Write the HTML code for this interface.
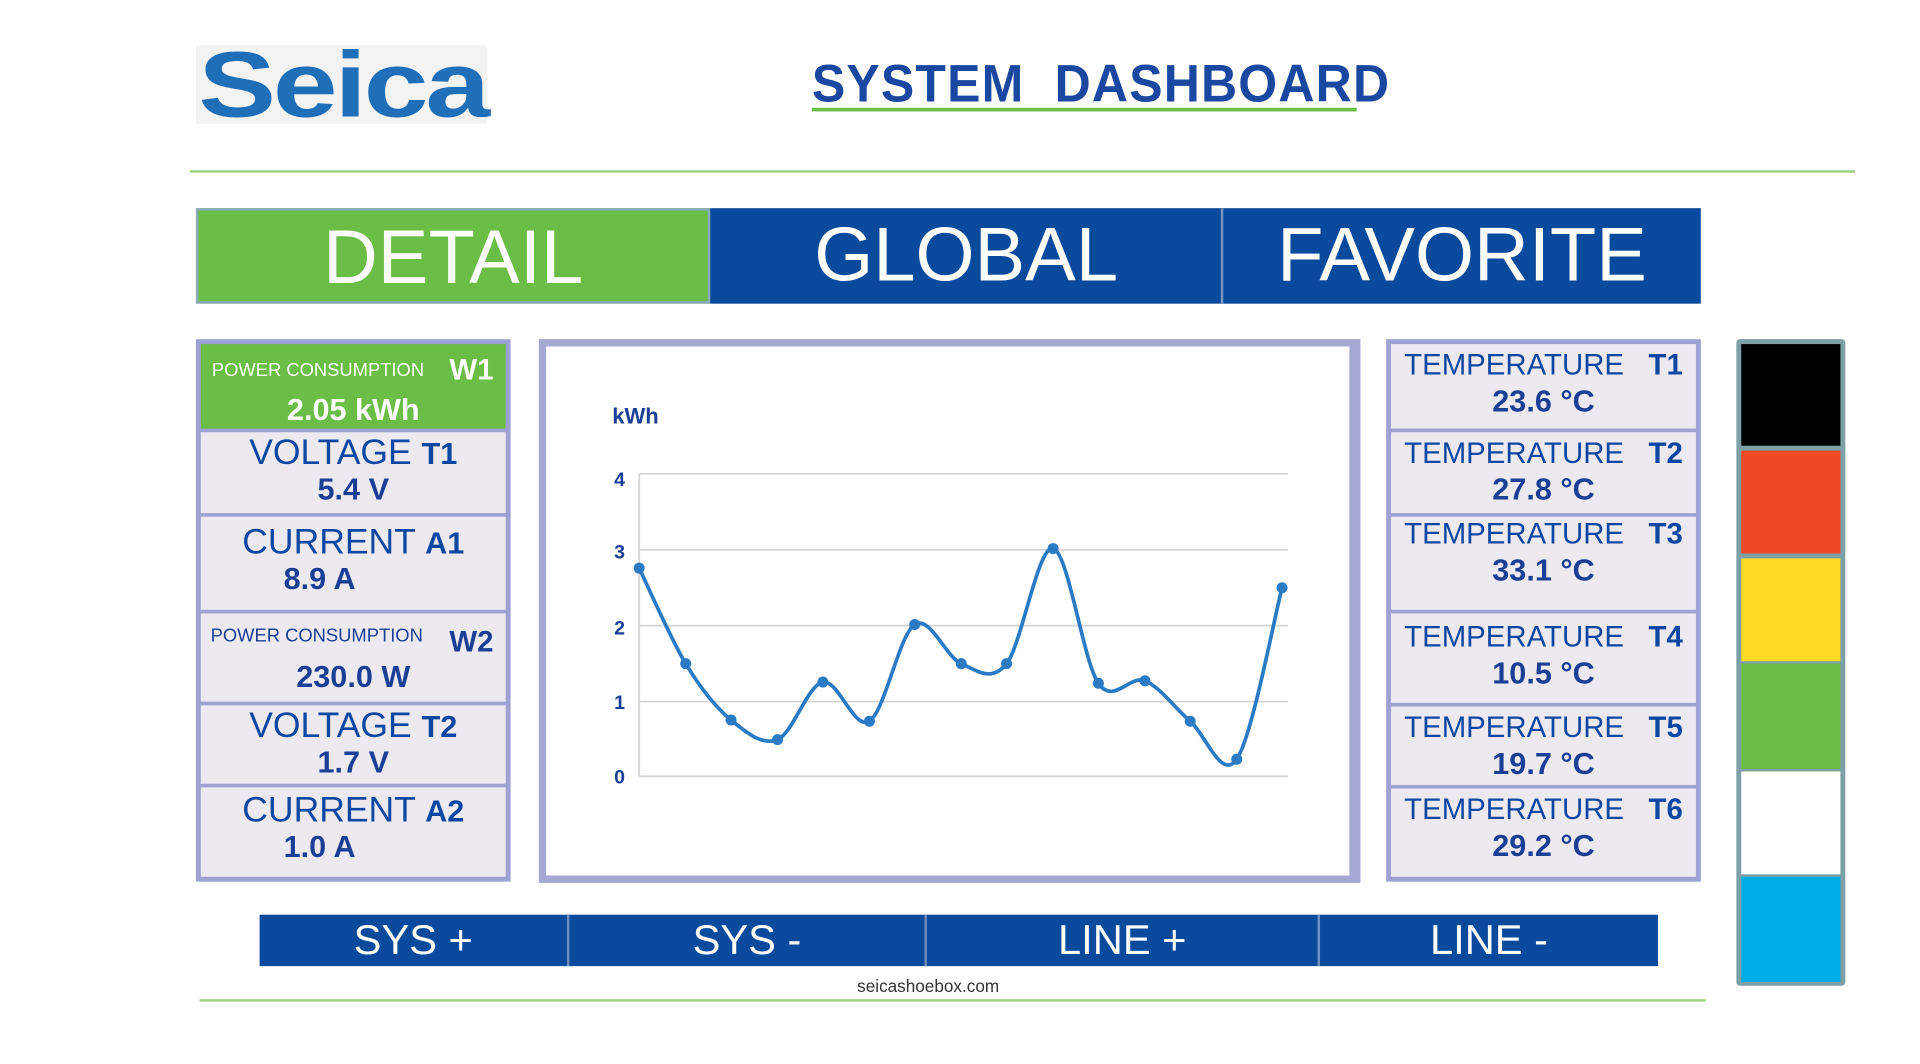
<!DOCTYPE html>
<html><head><meta charset="utf-8"><style>
html,body{margin:0;padding:0;background:#fff;width:1920px;height:1064px;overflow:hidden}
#w{position:absolute;left:0;top:0;width:1568px;height:869px;transform:scale(1.2245);transform-origin:0 0;font-family:"Liberation Sans",sans-serif}
.a{position:absolute;box-sizing:border-box}
.tab{color:#fff;font-size:62px;text-align:center;line-height:78px;top:170px;height:78px}
.panel{background:#9ea2d2}
.cell{position:absolute;left:4px;right:4px;background:#ece9f1;color:#0d47a1;text-align:center;box-sizing:border-box}
.big{font-size:29px;line-height:30px}
.val{font-size:25px;font-weight:bold;color:#1a3f94;line-height:28px}
.btn{color:#fff;font-size:34px;text-align:center;line-height:42px;top:747px;height:42px;font-family:"Liberation Sans Narrow","Liberation Sans",sans-serif;background:#0a4a9c;border-right:2px solid #6f8fc0}
</style></head><body><div id="w">
<div class="a" style="left:160px;top:37px;width:238px;height:64px;background:#f3f3f3"></div>
<div class="a" style="left:162px;top:26px;font-size:76px;font-weight:900;color:#1f6fb8;letter-spacing:-2px;transform:scaleX(1.25);transform-origin:0 0;font-family:'Liberation Sans',sans-serif">Seica</div>
<div class="a" style="left:663px;top:45px;font-size:43px;font-weight:900;color:#1a48a0;letter-spacing:1px;transform:scaleX(0.95);transform-origin:0 0;white-space:nowrap">SYSTEM&nbsp;&nbsp;DASHBOARD</div>
<div class="a" style="left:663px;top:88px;width:445px;height:3px;background:#6abd45"></div>
<div class="a" style="left:155px;top:139px;width:1360px;height:2px;background:#9fd27e"></div>

<div class="a tab" style="left:160px;width:420px;background:#6abd45;border:2px solid #8ab">DETAIL</div>
<div class="a tab" style="left:580px;width:418px;background:#0a4a9c">GLOBAL</div>
<div class="a tab" style="left:997px;width:392px;background:#0a4a9c;border-left:2px solid #7a95c4">FAVORITE</div>

<div class="a panel" style="left:160px;top:277px;width:257px;height:443px">
 <div class="cell" style="top:4px;height:69px;background:#6abd45;color:#fff"><div style="position:absolute;left:9px;top:13px;font-size:15px">POWER CONSUMPTION</div><div style="position:absolute;right:10px;top:8px;font-size:24px;font-weight:bold">W1</div><div style="position:absolute;left:0;right:0;top:40px;font-size:25px;font-weight:bold">2.05 kWh</div></div>
 <div class="cell" style="top:76px;height:66px"><div class="big" style="margin-top:2px">VOLTAGE <b style="font-size:25px">T1</b></div><div class="val">5.4 V</div></div>
 <div class="cell" style="top:145px;height:76px"><div class="big" style="margin-top:6px">CURRENT <b style="font-size:25px">A1</b></div><div class="val" style="margin-left:-55px">8.9 A</div></div>
 <div class="cell" style="top:224px;height:72px;color:#1a3f94"><div style="position:absolute;left:8px;top:10px;font-size:15px">POWER CONSUMPTION</div><div style="position:absolute;right:10px;top:10px;font-size:24px;font-weight:bold">W2</div><div class="val" style="position:absolute;left:0;right:0;top:38px">230.0 W</div></div>
 <div class="cell" style="top:299px;height:64px"><div class="big" style="margin-top:2px">VOLTAGE <b style="font-size:25px">T2</b></div><div class="val">1.7 V</div></div>
 <div class="cell" style="top:366px;height:73px"><div class="big" style="margin-top:4px">CURRENT <b style="font-size:25px">A2</b></div><div class="val" style="margin-left:-55px">1.0 A</div></div>
</div>

<div class="a" style="left:440px;top:277px;width:671px;height:444px;border:6px solid #a6a8d4;border-right-width:9px;background:#fff"></div>
<svg class="a" style="left:0;top:0" width="1568" height="869">
<g stroke="#d6d6d6" stroke-width="1.5"><line x1="522" x2="1052" y1="387" y2="387"/><line x1="522" x2="1052" y1="449" y2="449"/><line x1="522" x2="1052" y1="511" y2="511"/><line x1="522" x2="1052" y1="573" y2="573"/><line x1="522" x2="1052" y1="634" y2="634"/><line x1="522" x2="522" y1="387" y2="634"/></g>
<g font-family="Liberation Sans" font-weight="bold" font-size="16" fill="#1a3f94" text-anchor="middle"><text x="519" y="346" font-size="18">kWh</text><text x="506" y="397">4</text><text x="506" y="456">3</text><text x="506" y="518">2</text><text x="506" y="579">1</text><text x="506" y="640">0</text></g>
<path id="crv" fill="none" stroke="#2a7bc4" stroke-width="3"/>
<g id="dots" fill="#2a7bc4"></g>
</svg>

<div class="a panel" style="left:1132px;top:277px;width:257px;height:443px">
 <div class="cell" style="top:4px;height:69px"><div class="big" style="font-size:24px;margin-top:3px">TEMPERATURE&nbsp;&nbsp; <b>T1</b></div><div class="val">23.6 °C</div></div>
 <div class="cell" style="top:76px;height:66px"><div class="big" style="font-size:24px;margin-top:3px">TEMPERATURE&nbsp;&nbsp; <b>T2</b></div><div class="val">27.8 °C</div></div>
 <div class="cell" style="top:145px;height:76px"><div class="big" style="font-size:24px;margin-top:0">TEMPERATURE&nbsp;&nbsp; <b>T3</b></div><div class="val">33.1 °C</div></div>
 <div class="cell" style="top:224px;height:73px"><div class="big" style="font-size:24px;margin-top:5px">TEMPERATURE&nbsp;&nbsp; <b>T4</b></div><div class="val">10.5 °C</div></div>
 <div class="cell" style="top:300px;height:64px"><div class="big" style="font-size:24px;margin-top:3px">TEMPERATURE&nbsp;&nbsp; <b>T5</b></div><div class="val">19.7 °C</div></div>
 <div class="cell" style="top:367px;height:72px"><div class="big" style="font-size:24px;margin-top:3px">TEMPERATURE&nbsp;&nbsp; <b>T6</b></div><div class="val">29.2 °C</div></div>
</div>

<div class="a" style="left:1418px;top:277px;width:89px;height:528px;background:#7d9fa6;border-radius:3px"></div>
<div class="a" style="left:1422px;top:281px;width:81px;height:83px;background:#000"></div>
<div class="a" style="left:1422px;top:368px;width:81px;height:84px;background:#ef4a23"></div>
<div class="a" style="left:1422px;top:456px;width:81px;height:84px;background:#fedb22"></div>
<div class="a" style="left:1422px;top:542px;width:81px;height:86px;background:#6abd45"></div>
<div class="a" style="left:1422px;top:630px;width:81px;height:84px;background:#fff"></div>
<div class="a" style="left:1422px;top:716px;width:81px;height:86px;background:#00ade6"></div>

<div class="a btn" style="left:212px;width:253px">SYS +</div>
<div class="a btn" style="left:465px;width:292px">SYS -</div>
<div class="a btn" style="left:757px;width:321px">LINE +</div>
<div class="a btn" style="left:1078px;width:276px;border-right:none">LINE -</div>
<div class="a" style="left:700px;top:797px;font-size:14px;color:#333">seicashoebox.com</div>
<div class="a" style="left:163px;top:816px;width:1230px;height:2px;background:#9fd27e"></div>
</div>
<script>
var p=[[522,464],[560,542],[597,588],[635,604],[672,557],[710,589],[747,510],[785,542],[822,542],[860,448],[897,558],[935,556],[972,589],[1010,620],[1047,480]];
var d="M"+p[0].join(","),t=0.5,g="";
for(var i=0;i<p.length-1;i++){var a=p[i-1]||p[i],b=p[i],c=p[i+1],e=p[i+2]||c;
d+=" C"+(b[0]+(c[0]-a[0])*t/3)+","+(b[1]+(c[1]-a[1])*t/3)+" "+(c[0]-(e[0]-b[0])*t/3)+","+(c[1]-(e[1]-b[1])*t/3)+" "+c[0]+","+c[1];}
document.getElementById("crv").setAttribute("d",d);
p.forEach(function(q){g+='<circle cx="'+q[0]+'" cy="'+q[1]+'" r="4.5"/>'});
document.getElementById("dots").innerHTML=g;
</script>
</body></html>
